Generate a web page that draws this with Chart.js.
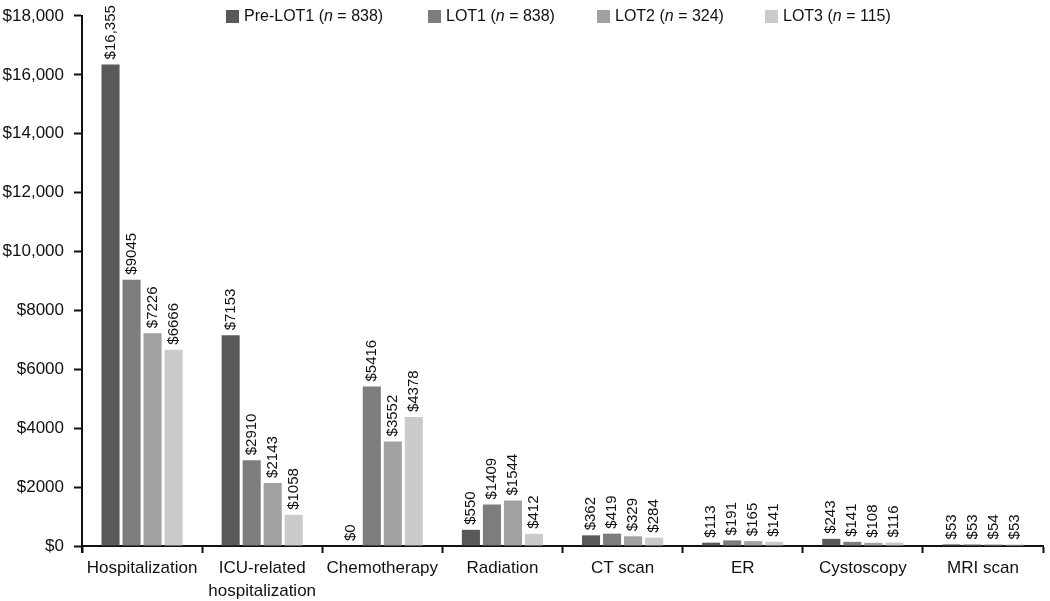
<!DOCTYPE html>
<html>
<head>
<meta charset="utf-8">
<script src="https://cdn.jsdelivr.net/npm/chart.js@4/dist/chart.umd.min.js"></script>
<style>
  html,body{margin:0;padding:0;background:#fff;}
  #wrap{width:1050px;height:601px;position:relative;}
</style>
</head>
<body>
<div id="wrap"><canvas id="c" width="1050" height="601"></canvas></div>
<script>
const categories = [
  "Hospitalization",
  ["ICU-related", "hospitalization"],
  "Chemotherapy",
  "Radiation",
  "CT scan",
  "ER",
  "Cystoscopy",
  "MRI scan"
];
const seriesNames = ["Pre-LOT1", "LOT1", "LOT2", "LOT3"];
const seriesN = [838, 838, 324, 115];
const preLot1 = [16355, 7153, 0, 550, 362, 113, 243, 53];
const lot1 = [9045, 2910, 5416, 1409, 419, 191, 141, 53];
const lot2 = [7226, 2143, 3552, 1544, 329, 165, 108, 54];
const lot3 = [6666, 1058, 4378, 412, 284, 141, 116, 53];
const yTicks = [0, 2000, 4000, 6000, 8000, 10000, 12000, 14000, 16000, 18000];

const colors = ["#57595a", "#7b7d7e", "#9fa1a3", "#c9cbcc"];
const FONT = "'Liberation Sans', Arial, Helvetica, sans-serif";

function fmt(v) {
  if (v >= 10000) return "$" + v.toLocaleString("en-US");
  return "$" + v;
}

const allSeries = [preLot1, lot1, lot2, lot3];

const valueLabels = {
  id: "valueLabels",
  afterDatasetsDraw(chart) {
    const ctx = chart.ctx;
    ctx.save();
    ctx.font = "15px " + FONT;
    ctx.fillStyle = "#111";
    ctx.textAlign = "left";
    ctx.textBaseline = "middle";
    chart.data.datasets.forEach((ds, di) => {
      const meta = chart.getDatasetMeta(di);
      meta.data.forEach((bar, i) => {
        const v = ds.data[i];
        ctx.save();
        ctx.translate(bar.x, bar.y - 5);
        ctx.rotate(-Math.PI / 2);
        ctx.fillText(fmt(v), 0, 0);
        ctx.restore();
      });
    });
    ctx.restore();
  }
};

const axisCross = {
  id: "axisCross",
  afterDraw(chart) {
    const ctx = chart.ctx;
    const a = chart.chartArea;
    ctx.save();
    ctx.strokeStyle = "#111";
    ctx.lineWidth = 2;
    ctx.beginPath();
    ctx.moveTo(a.left, a.bottom);
    ctx.lineTo(a.left, a.bottom + 7);
    ctx.stroke();
    ctx.restore();
  }
};

const customLegend = {
  id: "customLegend",
  afterDraw(chart) {
    const ctx = chart.ctx;
    const xs = [226, 428, 597, 765];
    const y = 17;
    ctx.save();
    ctx.textBaseline = "middle";
    ctx.textAlign = "left";
    chart.data.datasets.forEach((ds, i) => {
      let x = xs[i];
      ctx.fillStyle = ds.backgroundColor;
      ctx.fillRect(x, y - 7, 13, 13);
      x += 18;
      ctx.fillStyle = "#111";
      const parts = [
        ["16px " + FONT, seriesNames[i] + " ("],
        ["italic 16px " + FONT, "n"],
        ["16px " + FONT, " = " + seriesN[i] + ")"]
      ];
      parts.forEach(([f, t]) => {
        ctx.font = f;
        ctx.fillText(t, x, y);
        x += ctx.measureText(t).width;
      });
    });
    ctx.restore();
  }
};

const datasets = allSeries.map((arr, i) => ({
  label: seriesNames[i] + " (n = " + seriesN[i] + ")",
  data: arr,
  backgroundColor: colors[i],
  borderWidth: 0,
  categoryPercentage: 0.7,
  barPercentage: 0.86
}));

new Chart(document.getElementById("c"), {
  type: "bar",
  data: { labels: categories, datasets },
  plugins: [valueLabels, customLegend, axisCross],
  options: {
    responsive: false,
    animation: false,
    layout: { padding: { top: 15, right: 7, left: 0, bottom: 0 } },
    plugins: {
      legend: { display: false },
      tooltip: { enabled: false }
    },
    scales: {
      x: {
        offset: true,
        grid: {
          offset: true,
          drawOnChartArea: false,
          drawTicks: true,
          tickLength: 7,
          tickWidth: 2,
          color: "#111"
        },
        border: { display: true, color: "#111", width: 2 },
        ticks: {
          color: "#111",
          font: { family: FONT, size: 17, lineHeight: 1.4 },
          padding: 3,
          maxRotation: 0,
          autoSkip: false
        },
        afterFit(scale) { scale.height = 55; }
      },
      y: {
        min: 0,
        max: 18000,
        afterBuildTicks(scale) { scale.ticks = yTicks.map(v => ({ value: v })); },
        grid: {
          drawOnChartArea: false,
          drawTicks: true,
          tickLength: 8,
          tickWidth: 2,
          color: "#111"
        },
        border: { display: true, color: "#111", width: 2 },
        ticks: {
          color: "#111",
          font: { family: FONT, size: 17, lineHeight: 0.7 },
          padding: 10,
          callback: (v) => fmt(v)
        },
        afterFit(scale) { scale.width = 82; }
      }
    }
  }
});
</script>
</body>
</html>
